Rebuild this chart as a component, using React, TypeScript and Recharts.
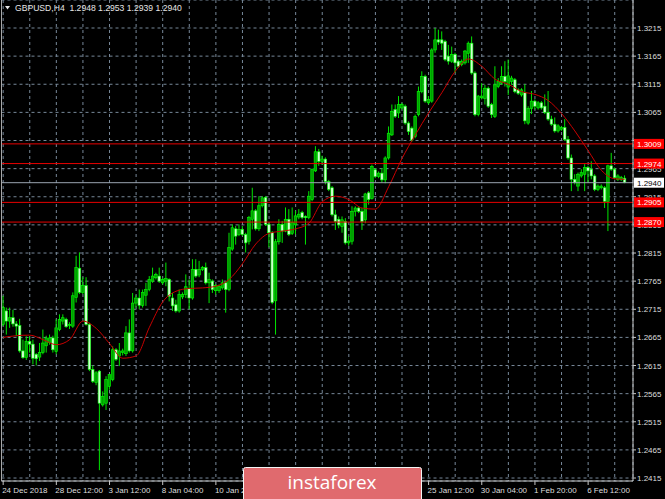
import React from "react";
import {
  Bar,
  CartesianGrid,
  ComposedChart,
  Line,
  ReferenceLine,
  XAxis,
  YAxis,
} from "recharts";

// GBPUSD H4 candles (188 bars).
const opens = [
  1.2688, 1.2712, 1.2694, 1.27, 1.2689, 1.2686, 1.2641, 1.2629, 1.2658, 1.2653,
  1.2635, 1.263, 1.2638, 1.265, 1.2656, 1.2664, 1.264, 1.2679, 1.2694, 1.2697,
  1.2686, 1.2685, 1.2736, 1.2788, 1.2745, 1.2757, 1.2688, 1.2608, 1.2585, 1.2605,
  1.2545, 1.2548, 1.2578, 1.259, 1.2643, 1.2632, 1.2638, 1.2636, 1.2673, 1.2641,
  1.2726, 1.2735, 1.2722, 1.274, 1.275, 1.2765, 1.2771, 1.2774, 1.2762, 1.2765,
  1.2768, 1.2735, 1.2723, 1.2712, 1.2737, 1.2741, 1.2752, 1.2735, 1.2786, 1.2776,
  1.2786, 1.2789, 1.2762, 1.2765, 1.2748, 1.2748, 1.2753, 1.2762, 1.275, 1.2822,
  1.2858, 1.2848, 1.2857, 1.2848, 1.2836, 1.2875, 1.289, 1.2858, 1.2899, 1.2914,
  1.2866, 1.2851, 1.273, 1.2835, 1.2866, 1.2854, 1.2875, 1.285, 1.2865, 1.2879,
  1.2887, 1.288, 1.2878, 1.291, 1.2961, 1.2995, 1.2978, 1.2982, 1.2942, 1.2931,
  1.2883, 1.2875, 1.2862, 1.2871, 1.2833, 1.2836, 1.2889, 1.2895, 1.2889, 1.2874,
  1.2922, 1.2912, 1.2963, 1.2951, 1.2957, 1.2945, 1.2984, 1.3025, 1.307, 1.3064,
  1.3073, 1.3076, 1.3046, 1.3037, 1.3022, 1.3061, 1.3102, 1.3129, 1.3082, 1.3085,
  1.3176, 1.3194, 1.3194, 1.3191, 1.3165, 1.3156, 1.3168, 1.3156, 1.315, 1.3153,
  1.317, 1.3188, 1.3135, 1.3061, 1.3091, 1.309, 1.3108, 1.3079, 1.3058, 1.3111,
  1.3117, 1.3129, 1.311, 1.312, 1.3123, 1.3105, 1.3096, 1.31, 1.3046, 1.3072,
  1.3085, 1.3073, 1.3082, 1.3076, 1.3065, 1.3053, 1.3044, 1.3032, 1.3035, 1.3038,
  1.3017, 1.2984, 1.2946, 1.2934, 1.2952, 1.2955, 1.2967, 1.2964, 1.2952, 1.2928,
  1.2931, 1.2931, 1.2907, 1.297, 1.2964, 1.2946, 1.2946, 1.2948,
];

const highs = [
  1.2739, 1.2718, 1.2718, 1.2714, 1.2694, 1.2698, 1.2661, 1.2667, 1.2667, 1.2661,
  1.2637, 1.2655, 1.2679, 1.2668, 1.267, 1.2668, 1.2697, 1.2706, 1.2706, 1.27,
  1.2692, 1.2745, 1.281, 1.2816, 1.2772, 1.2772, 1.2691, 1.2615, 1.2605, 1.2607,
  1.2569, 1.2596, 1.26, 1.2649, 1.2646, 1.2655, 1.2645, 1.2685, 1.2697, 1.2744,
  1.274, 1.275, 1.275, 1.2762, 1.2774, 1.2789, 1.278, 1.2789, 1.2771, 1.2798,
  1.277, 1.2744, 1.2732, 1.275, 1.2745, 1.2777, 1.2768, 1.2804, 1.2804, 1.2801,
  1.2792, 1.2798, 1.278, 1.2768, 1.276, 1.2759, 1.2768, 1.2765, 1.2851, 1.2866,
  1.2863, 1.2866, 1.2863, 1.2851, 1.2881, 1.2931, 1.2893, 1.2916, 1.2916, 1.2916,
  1.2869, 1.2854, 1.284, 1.2875, 1.2872, 1.2896, 1.2893, 1.2896, 1.289, 1.2893,
  1.289, 1.2882, 1.2925, 1.2965, 1.3005, 1.3, 1.2988, 1.2985, 1.2945, 1.2934,
  1.2892, 1.288, 1.288, 1.2877, 1.2845, 1.2898, 1.2898, 1.2898, 1.2895, 1.2922,
  1.2925, 1.2972, 1.2966, 1.296, 1.2966, 1.2987, 1.304, 1.3079, 1.3079, 1.3094,
  1.3082, 1.3079, 1.3049, 1.304, 1.3061, 1.3111, 1.3138, 1.3132, 1.3094, 1.3179,
  1.3215, 1.3212, 1.3209, 1.3194, 1.3185, 1.3182, 1.3171, 1.3159, 1.3159, 1.3176,
  1.3191, 1.32, 1.3138, 1.3096, 1.3117, 1.3114, 1.3111, 1.3082, 1.3147, 1.3126,
  1.3147, 1.3156, 1.3159, 1.313, 1.3126, 1.3108, 1.3108, 1.3115, 1.3076, 1.3103,
  1.3088, 1.3085, 1.3085, 1.3097, 1.3103, 1.3059, 1.3056, 1.3044, 1.3041, 1.3053,
  1.3023, 1.299, 1.2955, 1.2958, 1.2964, 1.2973, 1.297, 1.2978, 1.2955, 1.2937,
  1.2937, 1.2934, 1.2972, 1.2993, 1.2967, 1.2955, 1.2952, 1.2953,
];

const lows = [
  1.2685, 1.267, 1.2682, 1.2684, 1.2667, 1.2638, 1.2627, 1.2625, 1.2638, 1.2617,
  1.2615, 1.2623, 1.2635, 1.2638, 1.2652, 1.2638, 1.2635, 1.2676, 1.2688, 1.2682,
  1.268, 1.2682, 1.2727, 1.2742, 1.2742, 1.2686, 1.2605, 1.2584, 1.258, 1.2429,
  1.2542, 1.2536, 1.2572, 1.2587, 1.2623, 1.2614, 1.2633, 1.2632, 1.2638, 1.2638,
  1.2718, 1.2715, 1.2718, 1.2721, 1.2747, 1.2762, 1.2768, 1.2762, 1.2759, 1.2756,
  1.2729, 1.2712, 1.2709, 1.2709, 1.2733, 1.2735, 1.2715, 1.2732, 1.2771, 1.2772,
  1.2783, 1.2759, 1.2726, 1.2744, 1.2741, 1.2744, 1.275, 1.2709, 1.2747, 1.2819,
  1.283, 1.2845, 1.2845, 1.2816, 1.283, 1.2857, 1.2855, 1.2854, 1.2896, 1.2863,
  1.2825, 1.2724, 1.267, 1.283, 1.2833, 1.2852, 1.2845, 1.2847, 1.2848, 1.2875,
  1.2875, 1.283, 1.2875, 1.2907, 1.2959, 1.297, 1.2972, 1.2937, 1.2925, 1.288,
  1.2856, 1.2859, 1.2851, 1.283, 1.2828, 1.283, 1.288, 1.2886, 1.2856, 1.2868,
  1.2901, 1.291, 1.2948, 1.2948, 1.294, 1.2939, 1.2981, 1.3023, 1.3055, 1.3055,
  1.307, 1.3043, 1.3025, 1.3013, 1.3019, 1.3058, 1.3099, 1.3082, 1.3079, 1.3082,
  1.3171, 1.3185, 1.3176, 1.3156, 1.315, 1.3153, 1.3135, 1.3144, 1.3147, 1.315,
  1.3153, 1.3132, 1.3058, 1.3058, 1.3088, 1.3079, 1.3073, 1.3055, 1.3055, 1.3108,
  1.3114, 1.3111, 1.3096, 1.3114, 1.3099, 1.3096, 1.3093, 1.3044, 1.3043, 1.3062,
  1.307, 1.307, 1.307, 1.3062, 1.305, 1.3041, 1.3029, 1.3029, 1.3032, 1.3014,
  1.2981, 1.2925, 1.2937, 1.2925, 1.2949, 1.2925, 1.294, 1.2946, 1.2925, 1.2925,
  1.2928, 1.2895, 1.2854, 1.2961, 1.2946, 1.2943, 1.2943, 1.2939,
];

const closes = [
  1.2718, 1.2694, 1.27, 1.2689, 1.2685, 1.2641, 1.2629, 1.2658, 1.2653, 1.2628,
  1.2627, 1.2638, 1.2655, 1.2664, 1.2664, 1.2643, 1.2682, 1.2697, 1.27, 1.2684,
  1.2688, 1.2739, 1.2789, 1.2745, 1.2757, 1.2688, 1.2608, 1.2587, 1.2602, 1.2548,
  1.256, 1.259, 1.2599, 1.2643, 1.2626, 1.2641, 1.2641, 1.2673, 1.2641, 1.2726,
  1.2735, 1.2722, 1.2745, 1.275, 1.2768, 1.2774, 1.2777, 1.2765, 1.2768, 1.277,
  1.2738, 1.2721, 1.2712, 1.2741, 1.2741, 1.2755, 1.2735, 1.2786, 1.2774, 1.2786,
  1.2789, 1.2762, 1.2768, 1.275, 1.2757, 1.2756, 1.2762, 1.275, 1.2825, 1.286,
  1.2845, 1.2857, 1.2848, 1.2833, 1.2878, 1.289, 1.2858, 1.2899, 1.2913, 1.2866,
  1.2851, 1.2727, 1.2835, 1.2866, 1.2854, 1.2875, 1.2848, 1.2869, 1.2881, 1.2884,
  1.2878, 1.2878, 1.2916, 1.2964, 1.2995, 1.2978, 1.2982, 1.2942, 1.2928, 1.2883,
  1.2871, 1.2865, 1.2874, 1.2833, 1.2836, 1.2889, 1.2895, 1.2889, 1.2871, 1.292,
  1.291, 1.2969, 1.2951, 1.2957, 1.2945, 1.2984, 1.3028, 1.3067, 1.3058, 1.3079,
  1.3079, 1.3046, 1.3031, 1.3016, 1.3058, 1.3102, 1.3129, 1.3085, 1.3088, 1.3176,
  1.3194, 1.319, 1.3188, 1.3159, 1.3156, 1.3168, 1.3153, 1.3147, 1.3156, 1.3174,
  1.3188, 1.3135, 1.3061, 1.3094, 1.3094, 1.3108, 1.3076, 1.3061, 1.3114, 1.312,
  1.3129, 1.312, 1.313, 1.3126, 1.3102, 1.3099, 1.3105, 1.305, 1.3072, 1.3085,
  1.3076, 1.3082, 1.3073, 1.3065, 1.3053, 1.3044, 1.3032, 1.3041, 1.3038, 1.3017,
  1.2984, 1.2946, 1.294, 1.2955, 1.2958, 1.2967, 1.2961, 1.2952, 1.2928, 1.2934,
  1.2934, 1.2907, 1.297, 1.2964, 1.2949, 1.2952, 1.2949, 1.294,
];

// red moving average, read at every 4th bar (and the last one)
const maBars = [
  0, 4, 8, 12, 16, 20, 24, 28, 32, 36, 40, 44, 48, 52, 56, 60, 64, 68, 72, 76,
  80, 84, 88, 92, 96, 100, 104, 108, 112, 116, 120, 124, 128, 132, 136, 140,
  144, 148, 152, 156, 160, 164, 168, 172, 176, 180, 184, 187,
];
const maValues = [
  1.2665, 1.2668, 1.2669, 1.2661, 1.2652, 1.2661, 1.2694, 1.2681, 1.2654, 1.2628,
  1.2632, 1.2683, 1.2728, 1.2747, 1.2752, 1.2753, 1.2756, 1.2768, 1.2796, 1.2831,
  1.285, 1.2854, 1.2858, 1.2868, 1.2906, 1.2916, 1.291, 1.2895, 1.2893, 1.2933,
  1.2983, 1.3025, 1.3064, 1.31, 1.3138, 1.316, 1.3147, 1.3124, 1.3115, 1.3102,
  1.3097, 1.3086, 1.3063, 1.3032, 1.2997, 1.2962, 1.2947, 1.2946,
];

const priceTicks = [
  1.2415, 1.2465, 1.2515, 1.2565, 1.2615, 1.2665, 1.2715, 1.2765, 1.2815,
  1.2865, 1.2915, 1.2965, 1.3015, 1.3065, 1.3115, 1.3165, 1.3215,
];

const gridBars = [
  0, 8, 16, 24, 32, 40, 48, 56, 64, 72, 80, 88, 96, 104, 112, 120, 128, 136,
  144, 152, 160, 168, 176, 184,
];
// dates under the watermark are not visible in the reference, so only these are labelled
const labelBars = [0, 16, 32, 48, 64, 128, 144, 160, 176];
const labelTexts = [
  "24 Dec 2018",
  "28 Dec 12:00",
  "3 Jan 12:00",
  "8 Jan 04:00",
  "10 Jan 20:00",
  "25 Jan 12:00",
  "30 Jan 04:00",
  "1 Feb 20:00",
  "6 Feb 12:00",
];

const redLevels = [1.3009, 1.2974, 1.2905, 1.287];
const bidPrice = 1.294;
const titleText = "GBPUSD,H4  1.2948 1.2953 1.2939 1.2940";

const WIDTH = 665;
const HEIGHT = 499;
const SLOTS = 190;
const PLOT_TOP = 0;
const PLOT_BOTTOM = 481;
const Y_MIN = 1.24097;
const Y_MAX = 1.32648;
const FONT = "'Liberation Sans', Arial, sans-serif";
const AXIS_TEXT = "#dedede";

const rows = Array.from({ length: SLOTS }, (_, i) => ({
  i,
  range: i < opens.length ? [lows[i], highs[i]] : null,
  open: opens[i],
  close: closes[i],
  ma: null as number | null,
}));
maBars.forEach((bar, k) => {
  rows[bar].ma = maValues[k];
});

function priceToY(price: number): number {
  return (
    PLOT_TOP + ((Y_MAX - price) / (Y_MAX - Y_MIN)) * (PLOT_BOTTOM - PLOT_TOP)
  );
}

function Candle(props: any) {
  const { x, y, width, height, payload } = props;
  if (!payload || !payload.range) return null;
  const [low, high] = payload.range;
  const top = Math.min(y, y + height);
  const span = Math.abs(height);
  const perUnit = span / (high - low);
  const yOpen = top + (high - payload.open) * perUnit;
  const yClose = top + (high - payload.close) * perUnit;
  const cx = x + width / 2;
  const bull = payload.close >= payload.open;
  const bodyTop = Math.min(yOpen, yClose);
  const bodyH = Math.max(1, Math.abs(yClose - yOpen));
  return (
    <g>
      <line x1={cx} x2={cx} y1={top} y2={top + span} stroke="#00e600" strokeWidth={1} />
      <rect
        x={cx - 1.3}
        y={bodyTop}
        width={2.6}
        height={bodyH}
        fill={bull ? "#00a000" : "#d0ffd0"}
        stroke="#00ff00"
        strokeWidth={0.6}
      />
    </g>
  );
}

function PriceTick(props: any) {
  const { x, y, payload } = props;
  return (
    <g>
      <line x1={x} x2={x + 3} y1={y} y2={y} stroke="#c8c8c8" />
      <text x={x + 4} y={y + 3} fill={AXIS_TEXT} fontSize={8} fontFamily={FONT}>
        {Number(payload.value).toFixed(4)}
      </text>
    </g>
  );
}

function DateTick(props: any) {
  const { x, y, payload } = props;
  const idx = labelBars.indexOf(payload.value);
  if (idx < 0) return null;
  return (
    <g>
      <line x1={x} x2={x} y1={y} y2={y + 4} stroke="#c8c8c8" />
      <text x={Math.max(2, x - 1)} y={y + 12} fill={AXIS_TEXT} fontSize={8} fontFamily={FONT}>
        {labelTexts[idx]}
      </text>
    </g>
  );
}

function Overlay() {
  return (
    <svg
      width={WIDTH}
      height={HEIGHT}
      style={{ position: "absolute", left: 0, top: 0, pointerEvents: "none" }}
    >
      <line x1={1.5} x2={1.5} y1={0} y2={PLOT_BOTTOM} stroke="#a8a8a8" />
      <polygon points="5,6 10,6 7.5,9.5" fill="#e6e6e6" />
      <text
        x={15}
        y={11}
        fill="#e6e6e6"
        fontSize={8.6}
        fontFamily={FONT}
        style={{ whiteSpace: "pre" }}
      >
        {titleText}
      </text>
      {redLevels.map((level) => {
        const py = priceToY(level);
        return (
          <g key={level}>
            <rect x={634} y={py - 5} width={30} height={10} fill="#ff0000" />
            <text x={637} y={py + 3} fill="#ffffff" fontSize={8} fontFamily={FONT}>
              {level.toFixed(4)}
            </text>
          </g>
        );
      })}
      <rect x={634} y={priceToY(bidPrice) - 5} width={30} height={10} fill="#ffffff" />
      <text x={637} y={priceToY(bidPrice) + 3} fill="#000000" fontSize={8} fontFamily={FONT}>
        {bidPrice.toFixed(4)}
      </text>
      <rect
        x={243.5}
        y={467.5}
        width={178}
        height={40}
        rx={2}
        fill="#e06a6e"
        stroke="#f4f4f4"
        strokeWidth={1}
      />
      <text
        x={332}
        y={489}
        textAnchor="middle"
        fill="#ffffff"
        fontSize={19}
        fontFamily="'Open Sans', sans-serif"
      >
        instaforex
      </text>
    </svg>
  );
}

export default function App() {
  return (
    <div
      style={{
        position: "absolute",
        left: 0,
        top: 0,
        width: WIDTH,
        height: HEIGHT,
        background: "#000000",
        overflow: "hidden",
      }}
    >
      <ComposedChart
        width={WIDTH}
        height={HEIGHT}
        data={rows}
        margin={{ top: PLOT_TOP, right: 0, bottom: 0, left: 1.5 }}
        barCategoryGap={0}
      >
        <CartesianGrid stroke="#778899" strokeDasharray="3 3" />
        <XAxis
          dataKey="i"
          type="category"
          height={HEIGHT - PLOT_BOTTOM}
          ticks={gridBars}
          interval={0}
          tickSize={0}
          tickMargin={0}
          tickLine={false}
          axisLine={{ stroke: "#c8c8c8" }}
          tick={<DateTick />}
        />
        <YAxis
          orientation="right"
          type="number"
          width={32}
          domain={[Y_MIN, Y_MAX]}
          allowDataOverflow
          ticks={priceTicks}
          interval={0}
          tickSize={0}
          tickMargin={0}
          tickLine={false}
          axisLine={{ stroke: "#c8c8c8" }}
          tick={<PriceTick />}
        />
        <Bar dataKey="range" shape={<Candle />} isAnimationActive={false} />
        <Line
          dataKey="ma"
          stroke="#c80000"
          strokeWidth={1}
          dot={false}
          connectNulls
          type="monotone"
          isAnimationActive={false}
        />
        {redLevels.map((level) => (
          <ReferenceLine key={level} y={level} stroke="#e80000" strokeWidth={1} />
        ))}
        <ReferenceLine y={bidPrice} stroke="#9aa4b0" strokeWidth={1} />
      </ComposedChart>
      <Overlay />
    </div>
  );
}
